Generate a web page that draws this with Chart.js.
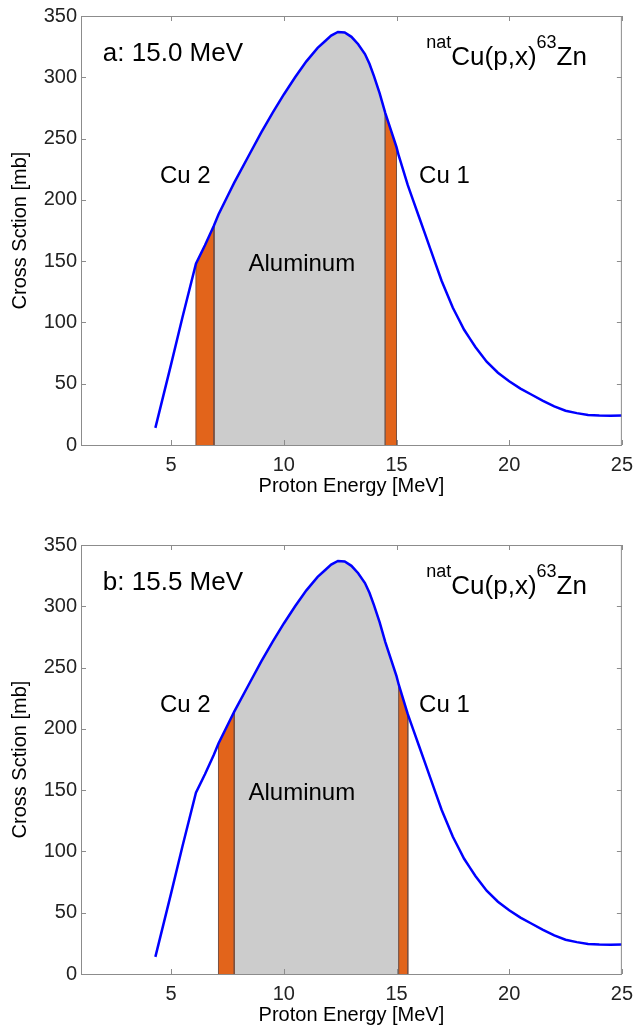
<!DOCTYPE html>
<html>
<head>
<meta charset="utf-8">
<script src="https://cdn.jsdelivr.net/npm/chart.js@4.4.1/dist/chart.umd.min.js"></script>
<style>
  body { margin: 0; background: #fff; }
  #wrap { position: relative; width: 641px; height: 1032px; }
  canvas { position: absolute; left: 0; }
</style>
</head>
<body>
<div id="wrap">
  <canvas id="chartA" width="641" height="500" style="top:0"></canvas>
  <canvas id="chartB" width="641" height="500" style="top:529px"></canvas>
</div>
<script>
// excitation function natCu(p,x)63Zn
const energy = [4.3, 5.0, 5.5, 6.1, 6.5, 6.9, 7.1, 7.5, 7.8, 8.5, 9.0, 9.5, 10.0, 10.5, 11.0, 11.5, 11.8, 12.1, 12.4,
  12.7, 13.0, 13.3, 13.6, 13.8, 14.0, 14.25, 14.5, 15.0, 15.1, 15.5, 15.75, 16.0, 16.25, 16.5, 16.75, 17.0, 17.25,
  17.5, 17.75, 18.0, 18.25, 18.5, 19.0, 19.5, 20.0, 20.5, 21.0, 21.5, 22.0, 22.5, 23.0, 23.5, 24.0, 24.5, 25.0];
const xsec = [14, 66, 104, 148, 163, 179, 188, 203, 214, 238, 255, 271, 286, 300, 313, 324, 329, 334, 337,
  336.5, 333, 327, 319, 311, 301, 287, 271, 243, 236, 212, 199, 186, 173, 160, 147, 134, 123,
  112, 103, 94, 87, 80, 68, 59, 52, 46, 41, 36, 31.5, 28, 26, 24.5, 24, 23.8, 24];

const xTicks = [5, 10, 15, 20, 25];
const yTicks = [0, 50, 100, 150, 200, 250, 300, 350];

// energy windows of the foils [MeV]
const cu2A = [6.1, 6.9];
const alA = [6.9, 14.5];
const cu1A = [14.5, 15.0];
const cu2B = [7.1, 7.8];
const alB = [7.8, 15.1];
const cu1B = [15.1, 15.5];

const FONT = '"Liberation Sans", Arial, Helvetica, sans-serif';
const ORANGE = '#e2641b';
const GRAY = '#cccccc';

function curvePoints() {
  return energy.map((e, i) => ({ x: e, y: xsec[i] }));
}

// points of the curve inside a window, closed down to zero at both ends
function bandPoints(win) {
  const pts = curvePoints().filter(p => p.x >= win[0] && p.x <= win[1]);
  return [{ x: win[0], y: 0 }, ...pts, { x: win[1], y: 0 }];
}

const frame = {
  id: 'frame',
  afterDraw(chart) {
    const { ctx, chartArea: a, scales: { x, y } } = chart;
    ctx.save();
    ctx.strokeStyle = '#8c8c8c';
    ctx.lineWidth = 1;
    ctx.strokeRect(a.left + 0.5, a.top + 0.5, a.right - a.left - 1, a.bottom - a.top);
    ctx.beginPath();
    xTicks.forEach(v => {
      const px = Math.round(x.getPixelForValue(v)) + 0.5;
      ctx.moveTo(px, a.bottom); ctx.lineTo(px, a.bottom - 5);
      ctx.moveTo(px, a.top); ctx.lineTo(px, a.top + 5);
    });
    yTicks.forEach(v => {
      const py = Math.round(y.getPixelForValue(v)) + 0.5;
      ctx.moveTo(a.left, py); ctx.lineTo(a.left + 5, py);
      ctx.moveTo(a.right, py); ctx.lineTo(a.right - 5, py);
    });
    ctx.stroke();
    ctx.restore();
  }
};

function notes(tag) {
  return {
    id: 'notes',
    afterDatasetsDraw(chart) {
      const { ctx, scales: { x, y } } = chart;
      ctx.save();
      ctx.fillStyle = '#000';
      ctx.textBaseline = 'alphabetic';
      ctx.textAlign = 'left';
      ctx.font = '26px ' + FONT;
      ctx.fillText(tag, x.getPixelForValue(1.97), y.getPixelForValue(313));

      ctx.font = '24px ' + FONT;
      ctx.fillText('Cu 2', x.getPixelForValue(4.5), y.getPixelForValue(214));
      ctx.fillText('Cu 1', x.getPixelForValue(16.0), y.getPixelForValue(214));
      ctx.fillText('Aluminum', x.getPixelForValue(8.43), y.getPixelForValue(142));

      // natCu(p,x)63Zn, right aligned
      const parts = [['nat', true], ['Cu(p,x)', false], ['63', true], ['Zn', false]];
      const big = '26px ' + FONT, small = '18px ' + FONT;
      let w = 0;
      parts.forEach(([t, sup]) => { ctx.font = sup ? small : big; w += ctx.measureText(t).width; });
      let px = x.getPixelForValue(23.45) - w;
      const base = y.getPixelForValue(310);
      parts.forEach(([t, sup]) => {
        ctx.font = sup ? small : big;
        ctx.fillText(t, px, sup ? base - 17 : base);
        px += ctx.measureText(t).width;
      });
      ctx.restore();
    }
  };
}

function makeChart(id, tag, cu2, al, cu1) {
  new Chart(document.getElementById(id), {
    type: 'line',
    data: {
      // first dataset is drawn on top, so the curve goes first
      datasets: [
        { data: curvePoints(), fill: false, borderColor: '#0000ff', borderWidth: 2.5, pointRadius: 0, tension: 0 },
        { data: bandPoints(cu1), fill: 'origin', backgroundColor: ORANGE, borderColor: '#7a5040', borderWidth: 1, pointRadius: 0 },
        { data: bandPoints(cu2), fill: 'origin', backgroundColor: ORANGE, borderColor: '#7a5040', borderWidth: 1, pointRadius: 0 },
        { data: bandPoints(al), fill: 'origin', backgroundColor: GRAY, borderColor: '#808080', borderWidth: 1, pointRadius: 0 }
      ]
    },
    options: {
      responsive: false,
      animation: false,
      devicePixelRatio: 1,
      layout: { padding: { left: 0, right: 14, top: 14, bottom: 0 } },
      plugins: { legend: { display: false }, tooltip: { enabled: false } },
      scales: {
        x: {
          type: 'linear', min: 1, max: 25,
          afterBuildTicks: s => { s.ticks = xTicks.map(v => ({ value: v })); },
          afterFit: s => { s.height = 55; },
          grid: { display: false, drawTicks: false },
          border: { display: false },
          ticks: { font: { family: FONT, size: 20 }, color: '#222', padding: 8, maxRotation: 0 },
          title: { display: true, text: 'Proton Energy [MeV]', font: { family: FONT, size: 20 }, color: '#000', padding: { top: 0, bottom: 2 } }
        },
        y: {
          min: 0, max: 350,
          afterBuildTicks: s => { s.ticks = yTicks.map(v => ({ value: v })); },
          afterFit: s => { s.width = 81; },
          grid: { display: false, drawTicks: false },
          border: { display: false },
          ticks: { font: { family: FONT, size: 20 }, color: '#222', padding: 4 },
          title: { display: true, text: 'Cross Sction [mb]', font: { family: FONT, size: 20 }, color: '#000', padding: { top: 8, bottom: 0 } }
        }
      }
    },
    plugins: [frame, notes(tag)]
  });
}

makeChart('chartA', 'a: 15.0 MeV', cu2A, alA, cu1A);
makeChart('chartB', 'b: 15.5 MeV', cu2B, alB, cu1B);
</script>
</body>
</html>
